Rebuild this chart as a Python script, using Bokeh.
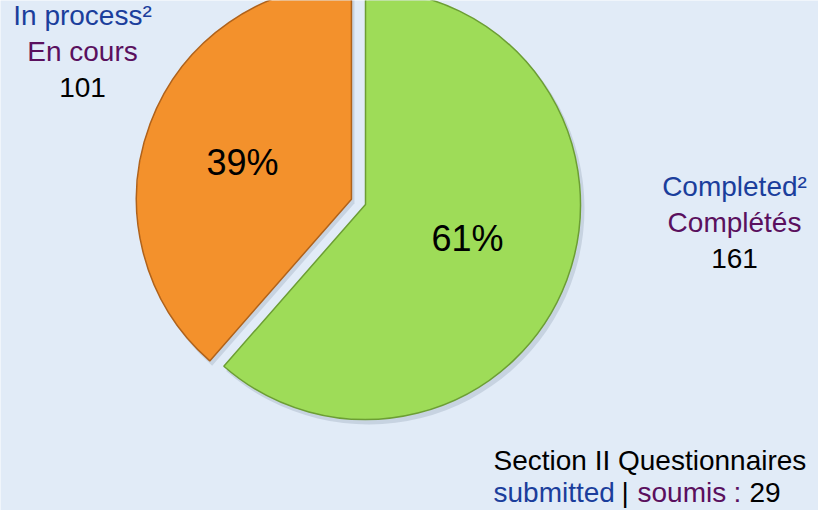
import math
from bokeh.plotting import figure
from bokeh.models import Range1d, ColumnDataSource
from bokeh.core.properties import value
from bokeh.embed import file_html
from bokeh.resources import INLINE

# ---- data ----
categories = ["Completed", "In process"]
counts = [161, 101]
labels_en = ["Completed\u00b2", "In process\u00b2"]
labels_fr = ["Complétés", "En cours"]
slice_colors = ["#9EDC58", "#F3912C"]
edge_colors = ["#6C9E34", "#B0621A"]
explode = [0, 15]
submitted_count = 29

W, H = 818, 510
FONT = value("Liberation Sans")
BLUE = "#1B3E9C"
PURPLE = "#5A105E"

p = figure(width=W, height=H, output_backend="svg", toolbar_location=None,
           x_range=Range1d(8, 8 + W), y_range=Range1d(526 - 8 - H, 526 - 8),
           min_border=0, outline_line_color=None,
           background_fill_color="#E1EBF7", border_fill_color="#E1EBF7")
p.axis.visible = False
p.grid.visible = False

cx, cy, r = 373, 526 - 212, 215
total = sum(counts)
starts, ends, xs, ys, pcts = [], [], [], [], []
ang = math.pi / 2
for i, c in enumerate(counts):
    theta = 2 * math.pi * c / total
    if i == 0:
        s, e = ang - theta, ang
    else:
        s, e = ang, ang + theta
    mid = (s + e) / 2
    xs.append(cx + explode[i] * math.cos(mid))
    ys.append(cy + explode[i] * math.sin(mid))
    starts.append(s)
    ends.append(e)
    pcts.append(f"{round(100 * c / total)}%")

src = ColumnDataSource(dict(x=xs, y=ys, sx=[x + 3 for x in xs], sy=[y - 4 for y in ys],
                            start=starts, end=ends, color=slice_colors, edge=edge_colors,
                            pct=pcts))

# soft shadow
p.wedge(x="sx", y="sy", radius=r + 1, start_angle="start", end_angle="end",
        fill_color="#7A8AA0", fill_alpha=0.25, line_color=None, source=src)
p.wedge(x="x", y="y", radius=r, start_angle="start", end_angle="end",
        fill_color="color", line_color="edge", line_width=1.5, source=src)

# percentage labels inside slices
pct_pos_x = [475, 250]
pct_pos_y = [526 - 246, 526 - 170]
p.text(x=pct_pos_x, y=pct_pos_y, text=pcts, text_font=FONT, text_font_size="36px",
       text_color="#000000", text_align="center", text_baseline="middle")

# outside labels
lab_x = [742, 90]
lab_y0 = [526 - 194, 526 - 23]
step = 36
FS = "28px"
for i in range(len(categories)):
    p.text(x=[lab_x[i]], y=[lab_y0[i]], text=[labels_en[i]], text_font=FONT,
           text_font_size=FS, text_color=BLUE, text_align="center", text_baseline="middle")
    p.text(x=[lab_x[i]], y=[lab_y0[i] - step], text=[labels_fr[i]], text_font=FONT,
           text_font_size=FS, text_color=PURPLE, text_align="center", text_baseline="middle")
    p.text(x=[lab_x[i]], y=[lab_y0[i] - 2 * step], text=[str(counts[i])], text_font=FONT,
           text_font_size=FS, text_color="#000000", text_align="center", text_baseline="middle")

# bottom-right note
p.text(x=[501], y=[526 - 468], text=["Section II Questionnaires"], text_font=FONT,
       text_font_size=FS, text_color="#000000", text_align="left", text_baseline="middle")
parts = ["submitted", "|", "soumis", ":", str(submitted_count)]
part_x = [501, 629, 645, 741, 757]
part_c = [BLUE, "#000000", PURPLE, PURPLE, "#000000"]
p.text(x=part_x, y=[526 - 500] * len(parts), text=parts, text_font=FONT,
       text_font_size=FS, text_color=part_c, text_align="left", text_baseline="middle")

open("out.html", "w").write(file_html(p, INLINE))
